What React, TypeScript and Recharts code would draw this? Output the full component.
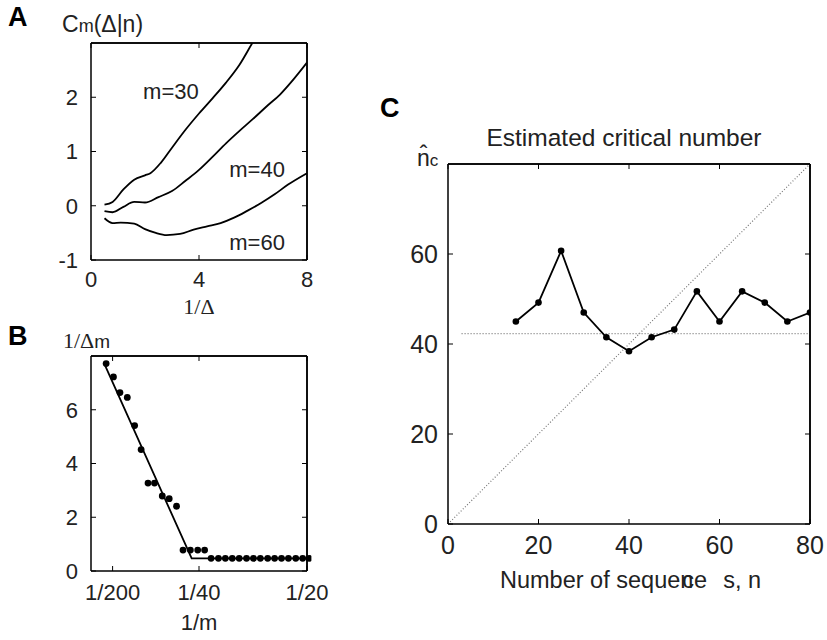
import { LineChart, Line, XAxis, YAxis, ReferenceDot, ReferenceLine } from "recharts";

const SANS = '"Liberation Sans", Arial, sans-serif';
const SERIF = '"Liberation Serif", "Times New Roman", serif';
const INK = "#222";

// Panel A: C_m(Δ|n) against 1/Δ
const A_X30 = [0.5, 0.8, 1.2, 1.6, 2.0, 2.2, 2.6, 3.0, 3.5, 4.0, 4.5, 5.0, 5.5, 6.0, 6.1];
const A_Y30 = [0.02, 0.07, 0.3, 0.48, 0.56, 0.6, 0.8, 1.07, 1.4, 1.7, 1.98, 2.27, 2.6, 3.02, 3.1];
const A_X40 = [0.5, 0.8, 1.2, 1.6, 2.0, 2.5, 3.0, 3.5, 4.0, 4.5, 5.0, 5.5, 6.0, 6.5, 7.0, 7.5, 8.0];
const A_Y40 = [-0.1, -0.12, -0.02, 0.07, 0.06, 0.16, 0.27, 0.46, 0.66, 0.9, 1.15, 1.38, 1.6, 1.83, 2.05, 2.33, 2.64];
const A_X60 = [0.5, 0.8, 1.1, 1.6, 2.0, 2.4, 2.8, 3.3, 3.8, 4.3, 4.8, 5.3, 5.8, 6.3, 6.8, 7.3, 8.0];
const A_Y60 = [-0.23, -0.32, -0.31, -0.33, -0.43, -0.5, -0.54, -0.52, -0.44, -0.38, -0.32, -0.22, -0.09, 0.05, 0.21, 0.39, 0.6];
const A_LABELS = [
  { text: "m=30", x: 2.96, y: 2.11 },
  { text: "m=40", x: 6.15, y: 0.67 },
  { text: "m=60", x: 6.15, y: -0.67 },
];
const A_XTICKS = [0, 4, 8];
const A_YTICKS = [-1, 0, 1, 2];

// Panel B: 1/Δm against 1/m
const B_INV_M = [
  0.0035, 0.0052, 0.0067, 0.0084, 0.0101, 0.0116, 0.0132, 0.0147, 0.0165, 0.0181,
  0.0198, 0.0213, 0.023, 0.0247, 0.0263, 0.0278, 0.0295, 0.0311, 0.0327, 0.0343,
  0.036, 0.0376, 0.0392, 0.0409, 0.0425, 0.0441, 0.0457, 0.0474, 0.049, 0.0505,
];
const B_INV_DELTA = [
  7.72, 7.22, 6.64, 6.46, 5.41, 4.52, 3.27, 3.27, 2.79, 2.69,
  2.41, 0.78, 0.78, 0.78, 0.78, 0.47, 0.47, 0.47, 0.47, 0.47,
  0.47, 0.47, 0.47, 0.47, 0.47, 0.47, 0.47, 0.47, 0.47, 0.47,
];
const B_FIT_X = [0.0033, 0.0233, 0.05];
const B_FIT_Y = [7.63, 0.47, 0.47];
const B_XTICKS = [0.005, 0.025, 0.05];
const B_XTICK_LABELS = ["1/200", "1/40", "1/20"];
const B_YTICKS = [0, 2, 4, 6];

// Panel C: estimated critical number against number of sequences
const C_N = [15, 20, 25, 30, 35, 40, 45, 50, 55, 60, 65, 70, 75, 80];
const C_NC = [45.0, 49.2, 60.7, 47.0, 41.5, 38.4, 41.5, 43.2, 51.7, 45.0, 51.7, 49.2, 45.0, 47.0];
const C_MEAN = 42.3;
const C_MEAN_SPAN = [3, 80];
const C_DIAG = [0, 80];
const C_XTICKS = [0, 20, 40, 60, 80];
const C_YTICKS = [0, 20, 40, 60];

const pairs = (xs: number[], ys: number[]) => xs.map((x, i) => ({ x, y: ys[i] }));

type Side = "left" | "bottom" | "right" | "top";

function makeTick(side: Side, fontSize = 21, gap = 13, labels?: Record<number, string>) {
  return (props: any) => {
    const { x, y, payload } = props;
    const v = payload.value;
    const L = 5;
    const txt = labels ? labels[v] ?? String(v) : String(v);
    const common = { stroke: "#000", strokeWidth: 1 };
    if (side === "left")
      return (
        <g>
          <line x1={x} y1={y} x2={x + L} y2={y} {...common} />
          <text x={x - gap} y={y} dy="0.36em" textAnchor="end" fontSize={fontSize} fontFamily={SANS} fill={INK}>
            {txt}
          </text>
        </g>
      );
    if (side === "bottom")
      return (
        <g>
          <line x1={x} y1={y} x2={x} y2={y - L} {...common} />
          <text x={x} y={y + gap} textAnchor="middle" fontSize={fontSize} fontFamily={SANS} fill={INK}>
            {txt}
          </text>
        </g>
      );
    if (side === "right") return <line x1={x} y1={y} x2={x - L} y2={y} {...common} />;
    return <line x1={x} y1={y} x2={x} y2={y + L} {...common} />;
  };
}

const frame = { stroke: "#000", strokeWidth: 1.5 };

// box with inward ticks on all four sides, like the original figure
function Frame({ xDomain, yDomain, xTicks, yTicks, fs, xGap, yGap, xLabels, yw, xh }: any) {
  return [
    <XAxis key="b" xAxisId={0} type="number" dataKey="x" domain={xDomain} ticks={xTicks} allowDataOverflow
      interval={0} height={xh} tickSize={0} tickMargin={0} axisLine={frame} tickLine={false}
      tick={makeTick("bottom", fs, xGap, xLabels)} />,
    <XAxis key="t" xAxisId="top" orientation="top" type="number" dataKey="x" domain={xDomain} ticks={xTicks}
      allowDataOverflow interval={0} height={1} tickSize={0} tickMargin={0} axisLine={frame} tickLine={false}
      tick={makeTick("top")} />,
    <YAxis key="l" yAxisId={0} type="number" domain={yDomain} ticks={yTicks} allowDataOverflow interval={0}
      width={yw} tickSize={0} tickMargin={0} axisLine={frame} tickLine={false} tick={makeTick("left", fs, yGap)} />,
    <YAxis key="r" yAxisId="right" orientation="right" type="number" domain={yDomain} ticks={yTicks}
      allowDataOverflow interval={0} width={1} tickSize={0} tickMargin={0} axisLine={frame} tickLine={false}
      tick={makeTick("right")} />,
    <Line key="anchor" xAxisId="top" yAxisId="right" data={[]} dataKey="y" stroke="none" dot={false}
      isAnimationActive={false} legendType="none" />,
    <ReferenceLine key="fr" x={xDomain[1]} stroke="#000" strokeWidth={1.5} />,
    <ReferenceLine key="ft" y={yDomain[1]} stroke="#000" strokeWidth={1.5} />,
  ];
}

function PanelA() {
  const curves = [pairs(A_X30, A_Y30), pairs(A_X40, A_Y40), pairs(A_X60, A_Y60)];
  return (
    <LineChart width={330} height={320} margin={{ top: 42, left: 51, right: 22, bottom: 20 }}>
      {Frame({ xDomain: [0, 8], yDomain: [-1, 3], xTicks: A_XTICKS, yTicks: A_YTICKS, fs: 22, xGap: 27, yGap: 13, yw: 40, xh: 40 })}
      {curves.map((d, i) => (
        <Line key={i} data={d} dataKey="y" type="monotone" stroke="#000" strokeWidth={1.8} dot={false}
          isAnimationActive={false} />
      ))}
      {A_LABELS.map((l) => (
        <ReferenceDot key={l.text} x={l.x} y={l.y} r={1} fill="none" stroke="none"
          label={{ value: l.text, position: "center", fontSize: 22, fill: INK, fontFamily: SANS }} />
      ))}
    </LineChart>
  );
}

function PanelB() {
  const labels: Record<number, string> = {};
  B_XTICKS.forEach((t, i) => (labels[t] = B_XTICK_LABELS[i]));
  return (
    <LineChart width={330} height={320} margin={{ top: 35, left: 51, right: 22, bottom: 29 }}>
      {Frame({ xDomain: [0, 0.05], yDomain: [0, 8], xTicks: B_XTICKS, yTicks: B_YTICKS, fs: 22, xGap: 29, yGap: 13, xLabels: labels, yw: 40, xh: 40 })}
      <Line data={pairs(B_FIT_X, B_FIT_Y)} dataKey="y" type="linear" stroke="#000" strokeWidth={1.8} dot={false}
        isAnimationActive={false} />
      <Line data={pairs(B_INV_M, B_INV_DELTA)} dataKey="y" stroke="none"
        dot={{ r: 3.4, fill: "#000", stroke: "none", clipDot: false } as any} isAnimationActive={false} />
    </LineChart>
  );
}

function PanelC() {
  return (
    <LineChart width={457} height={560} margin={{ top: 83, left: 38, right: 16, bottom: 66 }}>
      {Frame({ xDomain: [0, 80], yDomain: [0, 80], xTicks: C_XTICKS, yTicks: C_YTICKS, fs: 25, xGap: 30, yGap: 10, yw: 40, xh: 50 })}
      <ReferenceLine segment={[{ x: C_MEAN_SPAN[0], y: C_MEAN }, { x: C_MEAN_SPAN[1], y: C_MEAN }]}
        stroke="#777" strokeWidth={1.2} strokeDasharray="1 2" />
      <Line data={pairs(C_DIAG, C_DIAG)} dataKey="y" type="linear" stroke="#777" strokeWidth={1.2}
        strokeDasharray="1 2" dot={false} isAnimationActive={false} />
      <Line data={pairs(C_N, C_NC)} dataKey="y" type="linear" stroke="#000" strokeWidth={1.8}
        dot={{ r: 3.3, fill: "#000", stroke: "none" }} isAnimationActive={false} />
    </LineChart>
  );
}

export default function App() {
  return (
    <div style={{ position: "absolute", left: 0, top: 0, width: 827, height: 640, background: "#fff", overflow: "hidden" }}>
      <div style={{ position: "absolute", left: 0, top: 0 }}>
        <PanelA />
      </div>
      <div style={{ position: "absolute", left: 0, top: 320 }}>
        <PanelB />
      </div>
      <div style={{ position: "absolute", left: 370, top: 80 }}>
        <PanelC />
      </div>
      <svg width={827} height={640} style={{ position: "absolute", left: 0, top: 0, pointerEvents: "none" }}>
        <g fontFamily={SANS} fill={INK}>
          <text x={8} y={26} fontSize={27} fontWeight="bold" fill="#000">A</text>
          <text x={62} y={32} fontSize={23}>
            C<tspan fontSize={18}>m</tspan>(Δ|n)
          </text>
          <text x={199} y={314} fontSize={22} fontFamily={SERIF} textAnchor="middle">1/Δ</text>

          <text x={8} y={345} fontSize={27} fontWeight="bold" fill="#000">B</text>
          <text x={63} y={348} fontSize={22}>
            <tspan fontFamily={SERIF}>1/Δ</tspan>
            <tspan fontSize={19}>m</tspan>
          </text>
          <text x={199} y={630} fontSize={22} textAnchor="middle">1/m</text>

          <text x={380} y={117} fontSize={27} fontWeight="bold" fill="#000">C</text>
          <text x={624} y={146} fontSize={24.5} textAnchor="middle">Estimated critical number</text>
          <text x={417} y={166} fontSize={23}>
            {"n\u0302"}<tspan fontSize={17}>c</tspan>
          </text>
          <text x={500} y={588} fontSize={23.5}>
            Number of sequen<tspan dx={-11}>ce</tspan><tspan dx={16}>s, n</tspan>
          </text>
        </g>
      </svg>
    </div>
  );
}
